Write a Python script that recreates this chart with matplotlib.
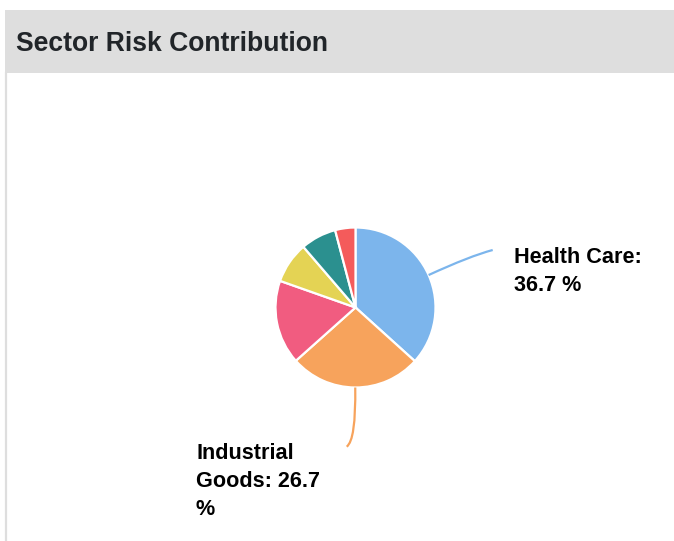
import textwrap
import matplotlib
matplotlib.use("Agg")
import matplotlib.pyplot as plt
from matplotlib.path import Path
from matplotlib.patches import PathPatch, Rectangle
import numpy as np

plt.rcParams['font.family'] = ['Liberation Sans', 'DejaVu Sans']

title = "Sector Risk Contribution"
sectors = ["Health Care", "Industrial Goods", "Sector C", "Sector D", "Sector E", "Sector F"]
values = [36.7, 26.7, 17.0, 8.3, 7.2, 4.1]
colors = ["#7cb5ec", "#f7a35c", "#f15c80", "#e4d354", "#2b908f", "#f45b5b"]
labelled = ["Health Care", "Industrial Goods"]

W, H = 674, 541
fig = plt.figure(figsize=(W / 100, H / 100), dpi=100)
ax = fig.add_axes([0, 0, 1, 1])
ax.set_xlim(0, W)
ax.set_ylim(0, H)
ax.set_aspect('equal')
ax.axis('off')

def Y(y):  # pixel row -> data y
    return H - y

# header band and left border
ax.add_patch(Rectangle((4.5, Y(72.5)), W - 4.5, 62.5, facecolor='#dedede', edgecolor='none'))
ax.plot([5.8, 5.8], [Y(72.5), 0], color='#dedede', lw=1.6)
ax.text(16, Y(50.7), title, fontsize=19.1, fontweight='bold', color='#212529', va='baseline')

# pie
cx, cy, r = 355.5, Y(307.5), 80
ax.pie(values, colors=colors, startangle=90, counterclock=False, center=(cx, cy), radius=r,
       wedgeprops=dict(edgecolor='white', linewidth=1.6), frame=True)
ax.set_xlim(0, W)
ax.set_ylim(0, H)
ax.axis('off')

# data labels with connectors
label_pos = {"Health Care": ((492.7, 250), (470, 256), (514, 263.3)),
             "Industrial Goods": ((346.7, 446.7), (356, 440), (196, 459.3))}
cum = np.cumsum([0] + values)
total = sum(values)
for i, name in enumerate(sectors):
    if name not in labelled:
        continue
    mid = np.deg2rad((cum[i] + values[i] / 2) / total * 360)
    sx, sy = cx + r * np.sin(mid), cy + r * np.cos(mid)
    end, ctrl, txt = label_pos[name]
    path = Path([(sx, sy), (ctrl[0], Y(ctrl[1])), (end[0], Y(end[1]))],
                [Path.MOVETO, Path.CURVE3, Path.CURVE3])
    ax.add_patch(PathPatch(path, facecolor='none', edgecolor=colors[i], lw=1.6))
    lines = textwrap.wrap(f"{name}: {values[i]} %", width=12)
    for k, line in enumerate(lines):
        ax.text(txt[0], Y(txt[1] + 28 * k), line, fontsize=15.6, fontweight='bold',
                color='black', va='baseline')

fig.savefig("out.png", dpi=100)
